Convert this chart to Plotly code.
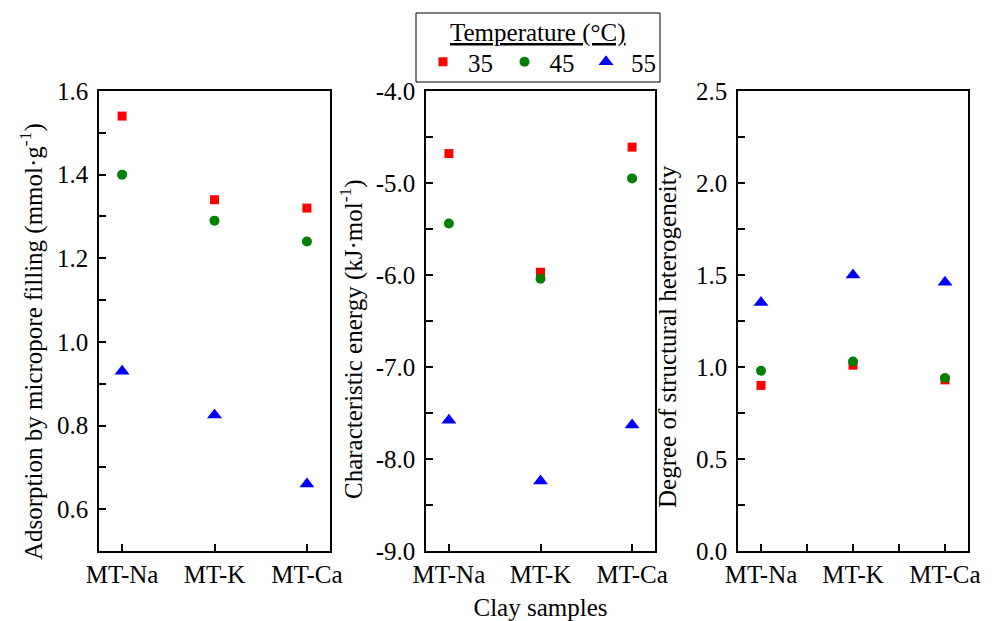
import plotly.graph_objects as go

# Clay samples and DA-model parameters at three temperatures
samples = ["MT-Na", "MT-K", "MT-Ca"]
temperatures = ["35", "45", "55"]

adsorption_35 = [1.54, 1.34, 1.32]
adsorption_45 = [1.40, 1.29, 1.24]
adsorption_55 = [0.93, 0.825, 0.66]

energy_35 = [-4.68, -5.97, -4.61]
energy_45 = [-5.44, -6.04, -4.95]
energy_55 = [-7.58, -8.24, -7.63]

heterogeneity_35 = [0.90, 1.01, 0.93]
heterogeneity_45 = [0.98, 1.03, 0.94]
heterogeneity_55 = [1.35, 1.50, 1.46]

panels = [
    [adsorption_35, adsorption_45, adsorption_55],
    [energy_35, energy_45, energy_55],
    [heterogeneity_35, heterogeneity_45, heterogeneity_55],
]

FONT = "Liberation Serif"
FS = 25
W, H = 994, 621
styles = [
    dict(symbol="square", color="#ff0000", size=9),
    dict(symbol="circle", color="#008000", size=10),
    dict(symbol="triangle-up", color="#0000ff", size=13),
]

x_pos = list(range(len(samples)))

fig = go.Figure()
for p, series in enumerate(panels):
    xa = "x" if p == 0 else f"x{p + 1}"
    ya = "y" if p == 0 else f"y{p + 1}"
    for t, vals in enumerate(series):
        st = styles[t]
        fig.add_trace(go.Scatter(
            x=x_pos, y=vals, mode="markers",
            name=temperatures[t], legendgroup=temperatures[t],
            showlegend=(p == 0),
            marker=dict(symbol=st["symbol"], color=st["color"], size=st["size"], line=dict(width=0)),
            xaxis=xa, yaxis=ya,
        ))

domains = [[99 / W, 330 / W], [426 / W, 655 / W], [738 / W, 968 / W]]
ydom = [1 - 551 / H, 1 - 91 / H]

txt = dict(family=FONT, size=FS, color="black")
tick_style = dict(ticks="inside", ticklen=7, tickwidth=1.5, tickcolor="black")

axis_common = dict(
    showline=True, mirror=True, linecolor="black", linewidth=1.5,
    showgrid=False, zeroline=False, automargin=False,
    tickfont=txt, **tick_style,
)

y_specs = [
    dict(range=[0.5, 1.6], tickvals=[0.6, 0.8, 1.0, 1.2, 1.4, 1.6],
         ticktext=["0.6", "0.8", "1.0", "1.2", "1.4", "1.6"],
         minor=[0.5, 0.7, 0.9, 1.1, 1.3, 1.5],
         title="Adsorption by micropore filling (mmol·g<sup>-1</sup>)", tx=31, ty=342),
    dict(range=[-9, -4], tickvals=[-9, -8, -7, -6, -5, -4],
         ticktext=["-9.0", "-8.0", "-7.0", "-6.0", "-5.0", "-4.0"],
         minor=[-8.5, -7.5, -6.5, -5.5, -4.5],
         title="Characteristic energy (kJ·mol<sup>-1</sup>)", tx=351, ty=339),
    dict(range=[0, 2.5], tickvals=[0, 0.5, 1.0, 1.5, 2.0, 2.5],
         ticktext=["0.0", "0.5", "1.0", "1.5", "2.0", "2.5"],
         minor=[0.25, 0.75, 1.25, 1.75, 2.25],
         title="Degree of structural heterogeneity", tx=667, ty=337),
]

annotations = [dict(text="<u>Temperature (°C)</u>", xref="paper", yref="paper",
                    x=537.5 / W, y=1 - 33 / H, xanchor="center", yanchor="middle",
                    showarrow=False, font=txt)]
# vertical axis titles
for ys in y_specs:
    annotations.append(dict(text=ys["title"], xref="paper", yref="paper",
                            x=ys["tx"] / W, y=1 - ys["ty"] / H, xanchor="center", yanchor="middle",
                            textangle=-90, showarrow=False, font=txt))

layout = dict(
    width=W, height=H,
    margin=dict(l=0, r=0, t=0, b=0, autoexpand=False),
    paper_bgcolor="white", plot_bgcolor="white",
    font=txt,
    showlegend=True,
    legend=dict(
        orientation="h", x=418 / W, xanchor="left", y=1 - 62 / H, yanchor="middle",
        borderwidth=0, bgcolor="rgba(0,0,0,0)",
        font=txt,
        itemwidth=40,
        entrywidth=26.5, entrywidthmode="pixels",
        itemsizing="trace",
    ),
    # legend frame
    shapes=[dict(type="rect", xref="paper", yref="paper",
                 x0=416 / W, x1=660 / W, y0=1 - 82 / H, y1=1 - 13 / H,
                 line=dict(color="black", width=1), fillcolor="white", layer="below")],
    annotations=annotations,
)

for p in range(3):
    sfx = "" if p == 0 else str(p + 1)
    xaxis = dict(
        axis_common, domain=domains[p], range=[-0.25, 2.25],
        tickvals=x_pos, ticktext=samples, anchor=f"y{sfx}",
    )
    if p == 1:
        xaxis["title"] = dict(text="Clay samples", font=txt, standoff=12)
    if p == 2:
        xaxis["minor"] = dict(tickvals=[0.5, 1.5], **tick_style)
    layout[f"xaxis{sfx}"] = xaxis
    ys = y_specs[p]
    layout[f"yaxis{sfx}"] = dict(
        axis_common, domain=ydom, range=ys["range"], tickvals=ys["tickvals"], ticktext=ys["ticktext"],
        minor=dict(tickvals=ys["minor"], **tick_style), anchor=f"x{sfx}",
        ticklabelstandoff=4,
    )

fig.update_layout(**layout)
fig.write_html("out.html")
